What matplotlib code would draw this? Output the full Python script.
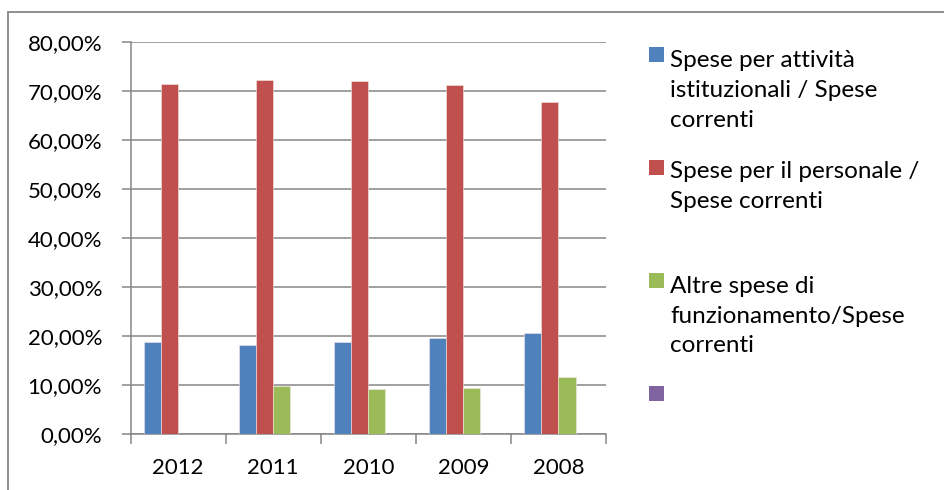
import numpy as np
import matplotlib
matplotlib.use("Agg")
import matplotlib.pyplot as plt
from matplotlib.patches import Rectangle
from matplotlib.ticker import FuncFormatter, MultipleLocator

plt.rcParams['font.family'] = ['Lato', 'DejaVu Sans']

years = ['2012', '2011', '2010', '2009', '2008']
attivita = [18.7, 18.2, 18.8, 19.5, 20.5]
personale = [71.4, 72.2, 72.0, 71.2, 67.8]
altre = [np.nan, 9.7, 9.1, 9.3, 11.6]
vuota = [np.nan] * 5

labels = [
    'Spese per attività\nistituzionali / Spese\ncorrenti',
    'Spese per il personale /\nSpese correnti',
    'Altre spese di\nfunzionamento/Spese\ncorrenti',
    '',
]
colors = ['#4F81BD', '#C0504D', '#9BBB59', '#8064A2']
series = [attivita, personale, altre, vuota]

W, H = 944, 490
fig = plt.figure(figsize=(W / 100, H / 100), dpi=100)

# axes box in pixel units
left, right, top, bottom = 130.5, 606, 41.7, 434
ax = fig.add_axes([left / W, 1 - bottom / H, (right - left) / W, (bottom - top) / H])

grid_col = '#868686'
x = np.arange(len(years))
bw = 0.18
for i, (vals, c) in enumerate(zip(series, colors)):
    ax.bar(x + (i - 1.5) * bw, vals, width=bw, color=c,
           edgecolor='#f4e8e8', linewidth=0.4, zorder=3)

ax.set_xlim(-0.5, len(years) - 0.5)
ax.set_ylim(0, 80)
ax.yaxis.set_major_locator(MultipleLocator(10))
ax.yaxis.set_major_formatter(FuncFormatter(lambda v, p: f"{v:.2f}%".replace('.', ',')))
ax.yaxis.grid(True, color=grid_col, linewidth=1.1, zorder=0)

ax.set_xticks(np.arange(len(years) + 1) - 0.5, minor=False)
ax.set_xticklabels([])
ax.set_xticks(x, minor=True)
ax.set_xticklabels(years, minor=True)
ax.tick_params(axis='x', which='major', length=7, width=1.1, color=grid_col, direction='out')
ax.tick_params(axis='x', which='minor', length=0, pad=17, labelsize=16)
ax.tick_params(axis='y', length=6.5, width=1.1, color=grid_col, pad=14, labelsize=16)

for s in ['top', 'right']:
    ax.spines[s].set_visible(False)
for s in ['left', 'bottom']:
    ax.spines[s].set_color(grid_col)
    ax.spines[s].set_linewidth(1.1)

# legend drawn at fixed, evenly spaced slots
line_step = 32
for i, (lab, c) in enumerate(zip(labels, colors)):
    yc = 55 + i * 112.7
    fig.add_artist(Rectangle((649 / W, 1 - (yc + 7.5) / H), 15 / W, 15 / H,
                             facecolor=c, edgecolor='none', transform=fig.transFigure))
    if lab:
        n = lab.count('\n')
        # baseline alignment uses the last line
        fig.text(670 / W, 1 - (yc + 8 + n * line_step) / H, lab, fontsize=17.5,
                 va='baseline', ha='left', linespacing=1.52)

# chart area border
fig.add_artist(Rectangle((8 / W, -0.1), 1.2, 1.1 - 12 / H, facecolor='none',
                         edgecolor=grid_col, linewidth=1.3, transform=fig.transFigure,
                         clip_on=False))

fig.savefig('out.png', dpi=100)
